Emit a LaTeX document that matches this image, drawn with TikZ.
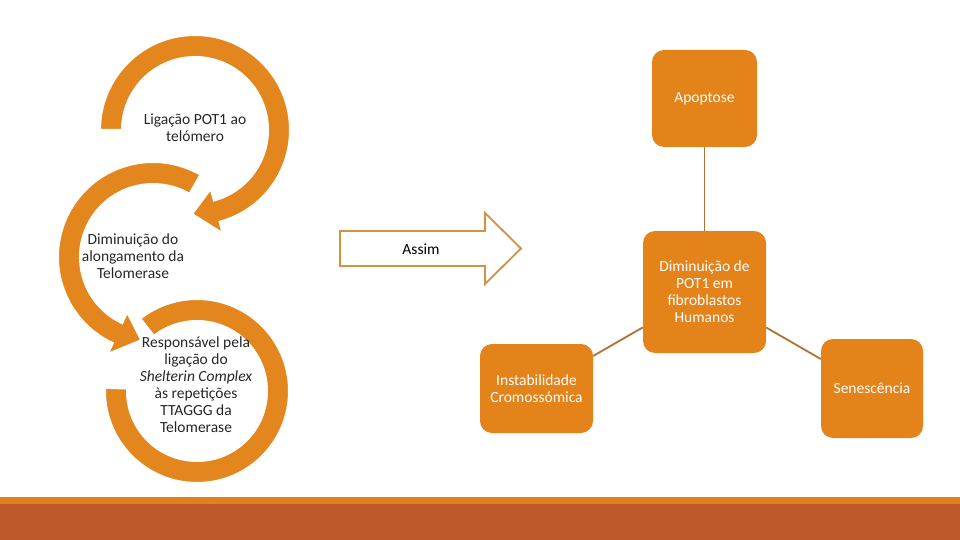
\documentclass[tikz,border=0pt]{standalone}
\usepackage{fontspec}
\setmainfont{Carlito}
\usetikzlibrary{positioning, calc}
\definecolor{ringorange}{RGB}{228,134,30}
\definecolor{boxorange}{RGB}{227,131,26}
\definecolor{linkbrown}{RGB}{176,114,50}
\definecolor{shaft}{RGB}{213,145,62}
\definecolor{barorange}{RGB}{224,130,26}
\definecolor{barbrown}{RGB}{190,89,44}

\begin{document}
\begin{tikzpicture}[x=1pt, y=-1pt, font=\fontsize{15.5}{17}\selectfont,
    ring/.style={fill=ringorange, draw=white, line width=2pt},
    cyctext/.style={align=center, text=black!85},
    result/.style={fill=boxorange, rounded corners=12pt, text=white, align=center, inner sep=2pt},
    link/.style={draw=linkbrown, line width=1.8pt}]
    \useasboundingbox (0,0) rectangle (960,540);

    \coordinate (c1) at (195,130);
    \coordinate (c2) at (153,257);
    \coordinate (c3) at (197,391);

    \filldraw[ring] ($(c3)+(182:92)$) arc[start angle=182, end angle=-128, radius=92]
        -- ($(c3)+(-128:70)$) arc[start angle=-128, end angle=182, radius=70] -- cycle;
    \filldraw[ring] ($(c2)+(-60:95)$) arc[start angle=-60, end angle=-245, radius=95]
        -- ($(c2)+(-245:107)$) -- ($(c2)+(-262:84)$) -- ($(c2)+(-245:61)$)
        -- ($(c2)+(-245:73)$) arc[start angle=-245, end angle=-60, radius=73] -- cycle;
    \filldraw[ring] ($(c1)+(180:95)$) arc[start angle=180, end angle=435, radius=95]
        -- ($(c1)+(435:107)$) -- ($(c1)+(452:84)$) -- ($(c1)+(435:61)$)
        -- ($(c1)+(435:73)$) arc[start angle=435, end angle=180, radius=73] -- cycle;

    \node[cyctext] (bind) at (195,128) {Ligação POT1 ao\\telómero};
    \node[cyctext] (elong) at (133,256) {Diminuição do\\alongamento da\\Telomerase};
    \node[cyctext] (shelter) at (196,385) {Responsável pela\\ligação do\\\textit{Shelterin Complex}\\às repetições\\TTAGGG da\\Telomerase};

    \draw[draw=shaft, line width=1.8pt, fill=white] (340,231) -- (485,231) -- (485,213) -- (521,248.5)
        -- (485,284) -- (485,266) -- (340,266) -- cycle;
    \node (assim) at (421,249) {Assim};

    \node[result, minimum width=123pt, minimum height=122pt] (dimin) at (704.5,292) {Diminuição de\\POT1 em\\fibroblastos\\Humanos};
    \node[result, minimum width=105pt, minimum height=97pt] (apop) at (704.5,98.5) {Apoptose};
    \node[result, minimum width=113pt, minimum height=89pt] (instab) at (536.5,388.5) {Instabilidade\\Cromossómica};
    \node[result, minimum width=102pt, minimum height=99pt] (senesc) at (872,388.5) {Senescência};

    \draw[link] (apop) -- (dimin);
    \draw[link] (dimin) -- (instab);
    \draw[link] (dimin) -- (senesc);

    \fill[barorange] (0,497) rectangle (960,504);
    \fill[barbrown] (0,504) rectangle (960,540);
\end{tikzpicture}
\end{document}
